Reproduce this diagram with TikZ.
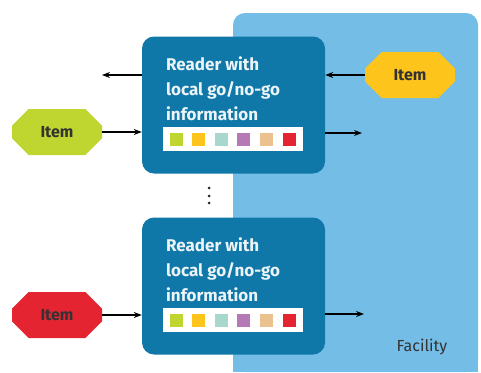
\documentclass[tikz,border=0pt]{standalone}
\usepackage{fontspec}
\setmainfont{Fira Sans}
\usetikzlibrary{arrows.meta,shapes.misc}
\definecolor{facilityblue}{HTML}{74BDE6}
\definecolor{readerblue}{HTML}{0F78A8}
\definecolor{itemlime}{HTML}{BFD631}
\definecolor{itemyellow}{HTML}{FDC41B}
\definecolor{itemred}{HTML}{E42531}
\definecolor{tagteal}{HTML}{A8D8CD}
\definecolor{tagpurple}{HTML}{B57AB5}
\definecolor{tagtan}{HTML}{EBC18F}

\begin{document}
\begin{tikzpicture}[x=1pt,y=-1pt,
    item/.style={chamfered rectangle,chamfered rectangle xsep=12pt,chamfered rectangle ysep=11pt,
      minimum width=90pt,minimum height=46pt,inner sep=0pt,font=\fontsize{16}{18}\selectfont\bfseries,text=black!80},
    reader/.style={fill=readerblue,rounded corners=12pt,minimum width=183pt,minimum height=137pt,inner sep=0pt},
    readertext/.style={anchor=north west,align=left,inner sep=0pt,text=white!92!readerblue,
      font=\fontsize{17}{25}\selectfont\bfseries},
    strip/.style={fill=white,anchor=north west,minimum width=140pt,minimum height=24pt,inner sep=0pt},
    flow/.style={-{Stealth[length=8pt,width=6pt]},line width=1.1pt}]
    \useasboundingbox (0,0) rectangle (481,372);
    % Facility area on the right
    \fill[facilityblue,rounded corners=12pt] (233,13) rectangle (478,372);
    \fill[facilityblue] (233,340) rectangle (478,372);
    \node[font=\fontsize{16}{18}\selectfont,text=black!80] (facility) at (422,347) {Facility};
    % Upper reader
    \node[reader] (reader1) at (233.5,105) {};
    \node[readertext] (text1) at (166,56.5) {Reader with\\local go/no-go\\information};
    \node[strip] (strip1) at (163,127) {};
    % Lower reader
    \node[reader] (reader2) at (233.5,286) {};
    \node[readertext] (text2) at (166,237.5) {Reader with\\local go/no-go\\information};
    \node[strip] (strip2) at (163,308) {};
    % Coloured tags on both strips
    \foreach \y in {132.5,313.5}
      \foreach \c [count=\i from 0] in {itemlime,itemyellow,tagteal,tagpurple,tagtan,itemred}
        \fill[\c] (169.5+22.6*\i,\y) rectangle +(13,13);
    % Dots between the readers
    \fill[black!85] (209,188) circle (1.5) (209,196) circle (1.5) (209,203) circle (1.5);
    % Items
    \node[item,fill=itemlime] (item1) at (57,132) {Item};
    \node[item,fill=itemyellow] (item2) at (410,75) {Item};
    \node[item,fill=itemred] (item3) at (57,315) {Item};
    % Free ends of the arrows
    \coordinate (out1) at (102,75);
    \coordinate (out2) at (362,133);
    \coordinate (out3) at (364,314);
    % Arrows
    \draw[flow] (out1 -| reader1.west) -- (out1);
    \draw[flow] (item2.west) -- (item2.west -| reader1.east);
    \draw[flow] (item1.east) -- (item1.east -| reader1.west);
    \draw[flow] (out2 -| reader1.east) -- (out2);
    \draw[flow] (item3.east) -- (item3.east -| reader2.west);
    \draw[flow] (out3 -| reader2.east) -- (out3);
\end{tikzpicture}
\end{document}
